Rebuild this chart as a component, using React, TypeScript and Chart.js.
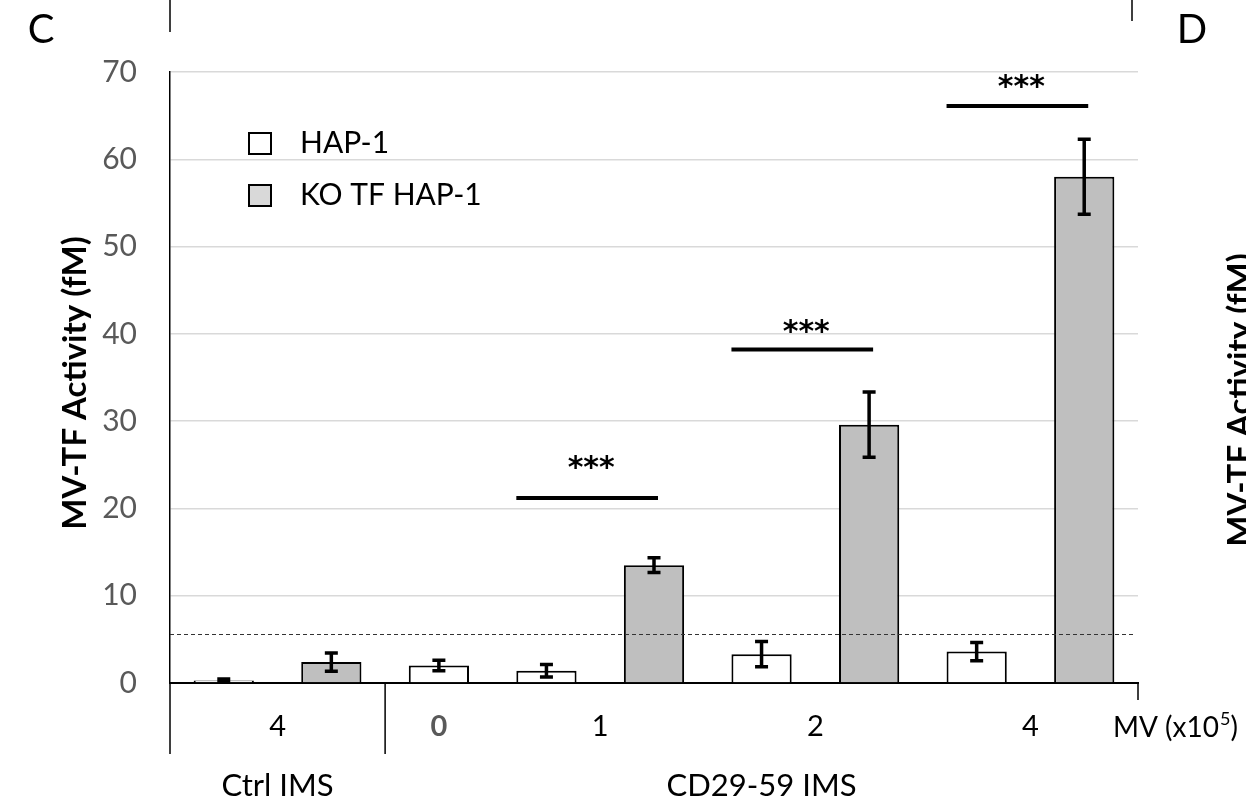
import React, { useEffect, useRef } from "react";
import { Chart, registerables } from "chart.js";

Chart.register(...registerables);

// ---- data ----
const categories = ["Ctrl 4 HAP-1", "Ctrl 4 KO", "0 HAP-1", "1 HAP-1", "1 KO", "2 HAP-1", "2 KO", "4 HAP-1", "4 KO"];
const hapValues = [0.3, null, 2.0, 1.4, null, 3.3, null, 3.6, null];
const koValues = [null, 2.4, null, null, 13.5, null, 29.6, null, 58.0];
const hapErrors = [0.15, null, 0.6, 0.72, null, 1.45, null, 1.05, null];
const koErrors = [null, 1.05, null, null, 0.85, null, 3.75, null, 4.3];
const yTickStep = 10;
const yMax = 70;
const thresholdValue = 5.6;

const doseLabels = ["4", "0", "1", "2", "4"];
const doseFirstIdx = [0, 2, 3, 5, 7];
const doseLastIdx = [1, 2, 4, 6, 8];
const groupLabels = ["Ctrl IMS", "CD29-59 IMS"];
const groupFirstIdx = [0, 2];
const groupLastIdx = [1, 8];

const sigFromIdx = [3, 5, 7];
const sigToIdx = [4, 6, 8];
const sigLineValues = [21.2, 38.2, 66.1];
const sigStarValues = [25.2, 40.8, 68.8];
const sigText = ["***", "***", "***"];

const seriesNames = ["HAP-1", "KO TF HAP-1"];

const FONT = "Lato, Carlito, 'Liberation Sans', sans-serif";

const decorations = {
  id: "decorations",
  afterDatasetsDraw(chart: any) {
    const ctx = chart.ctx;
    const x = chart.scales.x;
    const y = chart.scales.y;
    const area = chart.chartArea;
    ctx.save();

    // threshold dashed line
    ctx.strokeStyle = "#333333";
    ctx.lineWidth = 1;
    ctx.setLineDash([4, 3]);
    const ty = Math.round(y.getPixelForValue(thresholdValue)) + 0.5;
    ctx.beginPath();
    ctx.moveTo(area.left, ty);
    ctx.lineTo(area.right - 4, ty);
    ctx.stroke();
    ctx.setLineDash([]);

    // error bars
    const drawErr = (dsIndex: number, vals: (number | null)[], errs: (number | null)[]) => {
      const meta = chart.getDatasetMeta(dsIndex);
      vals.forEach((v, i) => {
        const e = errs[i];
        if (v == null || e == null) return;
        const el = meta.data[i];
        if (!el) return;
        const cx = el.x;
        const yt = y.getPixelForValue(v + e);
        const yb = y.getPixelForValue(Math.max(0, v - e));
        ctx.strokeStyle = "#000";
        ctx.lineWidth = 3.5;
        ctx.beginPath();
        ctx.moveTo(cx, yt);
        ctx.lineTo(cx, yb);
        ctx.moveTo(cx - 6.5, yt);
        ctx.lineTo(cx + 6.5, yt);
        ctx.moveTo(cx - 6.5, yb);
        ctx.lineTo(cx + 6.5, yb);
        ctx.stroke();
      });
    };
    drawErr(0, hapValues, hapErrors);
    drawErr(1, koValues, koErrors);

    // significance lines
    const metaHap = chart.getDatasetMeta(0);
    sigFromIdx.forEach((fi, k) => {
      const hapEl = metaHap.data[fi];
      const half = hapEl ? hapEl.width / 2 : 30;
      const x0 = x.getPixelForValue(fi) - half;
      const x1 = x.getPixelForValue(sigToIdx[k]) + 4;
      const ly = y.getPixelForValue(sigLineValues[k]);
      ctx.strokeStyle = "#000";
      ctx.lineWidth = 4;
      ctx.beginPath();
      ctx.moveTo(x0, ly);
      ctx.lineTo(x1, ly);
      ctx.stroke();
      ctx.fillStyle = "#000";
      ctx.font = `bold 30px 'DejaVu Sans', ${FONT}`;
      ctx.textAlign = "center";
      ctx.textBaseline = "middle";
      ctx.fillText(sigText[k], (x0 + x1) / 2 + 4, y.getPixelForValue(sigStarValues[k]) + 6);
    });
    ctx.restore();
  },
  afterDraw(chart: any) {
    const ctx = chart.ctx;
    const x = chart.scales.x;
    const area = chart.chartArea;
    ctx.save();
    ctx.strokeStyle = "#000";
    ctx.lineWidth = 1.5;
    // y axis extension below
    ctx.beginPath();
    ctx.moveTo(area.left, area.bottom);
    ctx.lineTo(area.left, area.bottom + 71);
    // group separator
    const sepX = x.getPixelForValue(groupLastIdx[0] + 0.5);
    ctx.moveTo(sepX, area.bottom);
    ctx.lineTo(sepX, area.bottom + 71);
    // right end tick
    ctx.moveTo(area.right, area.bottom);
    ctx.lineTo(area.right, area.bottom + 17);
    // top frame fragments
    ctx.moveTo(area.left, 0);
    ctx.lineTo(area.left, 32);
    ctx.moveTo(1132, 0);
    ctx.lineTo(1132, 21);
    ctx.stroke();

    // dose labels
    ctx.textBaseline = "middle";
    ctx.textAlign = "center";
    doseLabels.forEach((lab, i) => {
      const cx = x.getPixelForValue((doseFirstIdx[i] + doseLastIdx[i]) / 2);
      if (lab === "0") {
        ctx.font = `bold 29px ${FONT}`;
        ctx.fillStyle = "#595959";
      } else {
        ctx.font = `29px ${FONT}`;
        ctx.fillStyle = "#000";
      }
      ctx.fillText(lab, cx, area.bottom + 44);
    });
    // group labels
    ctx.font = `31px ${FONT}`;
    ctx.fillStyle = "#000";
    groupLabels.forEach((lab, i) => {
      const cx = x.getPixelForValue((groupFirstIdx[i] + groupLastIdx[i]) / 2);
      ctx.fillText(lab, cx, area.bottom + 103);
    });
    // MV (x10^5)
    ctx.textAlign = "left";
    ctx.font = `28px ${FONT}`;
    let mx = area.right - 25;
    const my = area.bottom + 45;
    const p1 = "MV (x10";
    ctx.fillText(p1, mx, my);
    mx += ctx.measureText(p1).width;
    ctx.font = `18px ${FONT}`;
    ctx.fillText("5", mx + 1, my - 9);
    mx += ctx.measureText("5").width + 1;
    ctx.font = `28px ${FONT}`;
    ctx.fillText(")", mx, my);

    // panel letters
    ctx.font = `40px ${FONT}`;
    ctx.textAlign = "center";
    ctx.fillText("C", 41, 30);
    ctx.fillText("D", 1192, 30);

    // axis titles
    ctx.font = `bold 33px ${FONT}`;
    ctx.save();
    ctx.translate(75, 383);
    ctx.rotate(-Math.PI / 2);
    ctx.fillText("MV-TF Activity (fM)", 0, 0);
    ctx.restore();
    ctx.save();
    ctx.translate(1240, 400);
    ctx.rotate(-Math.PI / 2);
    ctx.fillText("MV-TF Activity (fM)", 0, 0);
    ctx.restore();

    // legend
    const legendFills = ["#ffffff", "#d9d9d9"];
    const legendY = [143, 195];
    seriesNames.forEach((name, i) => {
      ctx.fillStyle = legendFills[i];
      ctx.strokeStyle = "#000";
      ctx.lineWidth = 2;
      ctx.fillRect(249, legendY[i] - 10, 22, 21);
      ctx.strokeRect(249, legendY[i] - 10, 22, 21);
      ctx.fillStyle = "#000";
      ctx.font = `30px ${FONT}`;
      ctx.textAlign = "left";
      ctx.fillText(name, 300, legendY[i]);
    });
    ctx.restore();
  },
};

export default function App() {
  const ref = useRef<HTMLCanvasElement>(null);
  useEffect(() => {
    const canvas = ref.current!;
    const chart = new Chart(canvas, {
      type: "bar",
      data: {
        labels: categories,
        datasets: [
          {
            label: seriesNames[0],
            data: hapValues,
            backgroundColor: "#ffffff",
            borderColor: "#000000",
            borderWidth: 2,
            grouped: false,
            barPercentage: 0.56,
            categoryPercentage: 1,
          } as any,
          {
            label: seriesNames[1],
            data: koValues,
            backgroundColor: "#bfbfbf",
            borderColor: "#000000",
            borderWidth: 2,
            grouped: false,
            barPercentage: 0.56,
            categoryPercentage: 1,
          } as any,
        ],
      },
      options: {
        responsive: false,
        animation: false,
        layout: { padding: { top: 72, right: 108, bottom: 123, left: 0 } },
        plugins: { legend: { display: false }, tooltip: { enabled: false } },
        scales: {
          x: {
            grid: { display: false, drawTicks: false },
            border: { display: true, color: "#000", width: 2 },
            ticks: { display: false },
            afterFit: (s: any) => {
              s.height = 0;
            },
          },
          y: {
            min: 0,
            max: yMax,
            ticks: {
              stepSize: yTickStep,
              color: "#595959",
              font: { family: FONT, size: 30 },
              padding: 33,
            },
            grid: { color: "#d9d9d9", lineWidth: 1.5, drawTicks: false },
            border: { display: true, color: "#000", width: 1.5 },
            afterFit: (s: any) => {
              s.width = 170;
            },
          },
        },
      },
      plugins: [decorations],
    });
    return () => chart.destroy();
  }, []);
  return (
    <div style={{ position: "absolute", left: 0, top: 0, width: 1246, height: 806, background: "#fff" }}>
      <canvas ref={ref} width={1246} height={806} style={{ display: "block" }} />
    </div>
  );
}
